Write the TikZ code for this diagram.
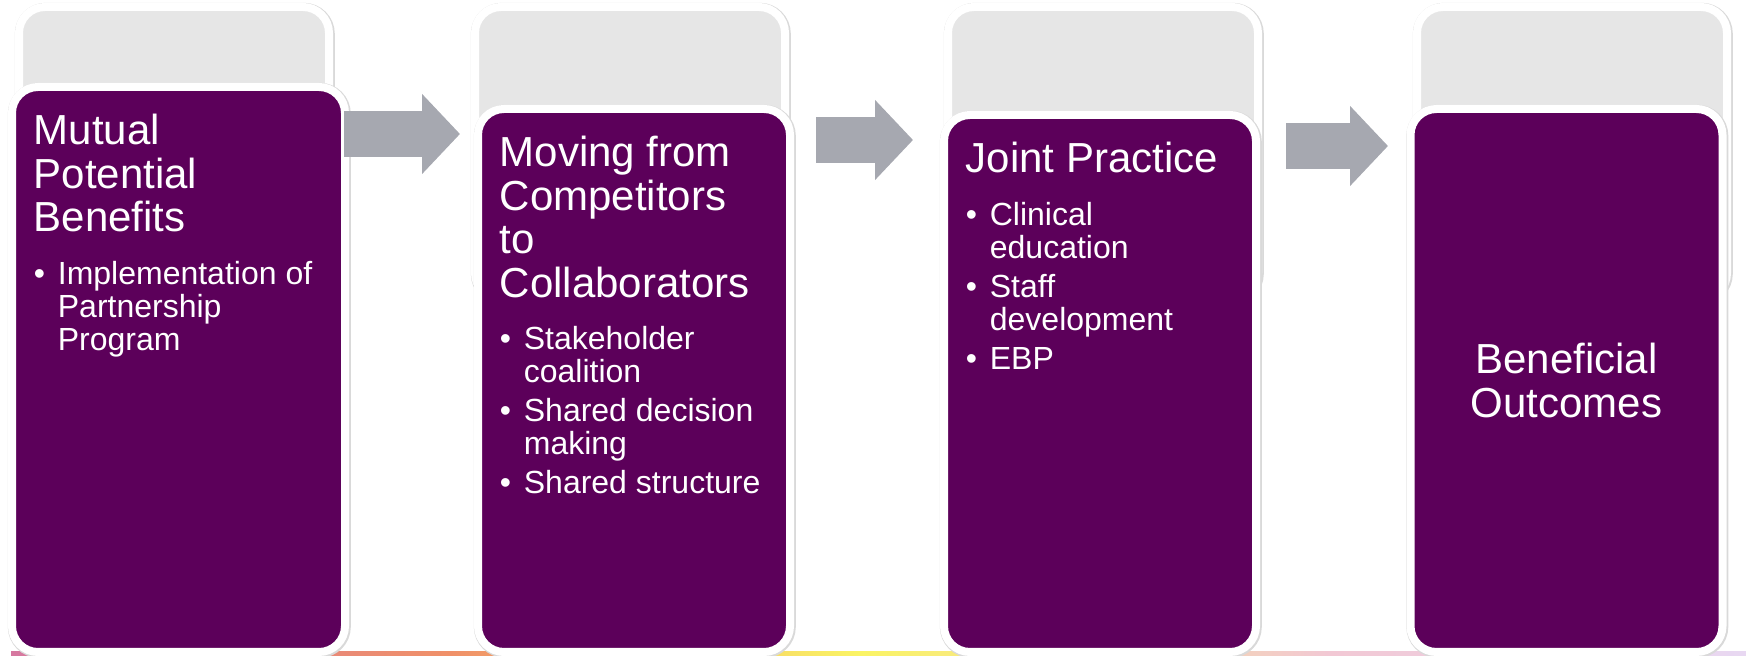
\documentclass[tikz,border=0pt]{standalone}
\usepackage{fontspec}
\setmainfont{Liberation Sans}
\usetikzlibrary{arrows.meta,calc}
\definecolor{cardpurple}{RGB}{92,0,90}
\definecolor{cardgray}{RGB}{230,230,230}
\definecolor{arrowgray}{RGB}{166,168,176}
\definecolor{stripA}{RGB}{214,120,160}
\definecolor{stripB}{RGB}{240,144,104}
\definecolor{stripC}{RGB}{250,244,100}
\definecolor{stripD}{RGB}{242,200,212}
\definecolor{stripE}{RGB}{232,216,242}
\pgfdeclarelayer{back}
\pgfsetlayers{back,main}
\newcommand\cardtitle{\fontsize{21}{21.75}\selectfont}
\newcommand\cardbox[2]{\parbox[t]{160pt}{\setlength\parskip{3pt}\cardtitle #1\par
  \vspace{6.75pt}\fontsize{16}{16.5}\selectfont #2}}
\newcommand\cardpoint[1]{\par\noindent\hangindent=12pt\hangafter=1%
  \makebox[12pt][l]{\textbullet}#1}
\tikzset{
  card/.style = {rectangle, rounded corners=13pt, draw=white, line width=4pt, inner sep=0pt,
    preaction={draw=black!15, line width=5pt, transform canvas={shift={(0.4pt,-0.4pt)}}}},
  backcard/.style = {card, fill=cardgray, minimum width=155pt, minimum height=146pt},
  frontcard/.style = {card, fill=cardpurple, minimum width=156pt},
  cardtext/.style = {anchor=base west, inner sep=0pt, text=white},
  flowarrow/.style = {draw=arrowgray, line width=23pt,
    -{Triangle[length=19pt, width=39pt, fill=arrowgray]}},
}
\begin{document}
\begin{tikzpicture}[x=0.5pt, y=-0.5pt]
\useasboundingbox (0,0) rectangle (1746,656);
\begin{pgfonlayer}{back}
  % coloured strip along the bottom
  \shade[left color=stripA, right color=stripB] (11,652) rectangle (450,656);
  \shade[left color=stripB, right color=stripC] (450,652) rectangle (860,656);
  \shade[left color=stripC, right color=stripD] (860,652) rectangle (1330,656);
  \shade[left color=stripD, right color=stripE] (1330,652) rectangle (1746,656);
  \node[backcard] (g1) at (174,153) {};
  \node[backcard] (g2) at (630,153) {};
  \node[backcard] (g3) at (1103,153) {};
  \node[backcard] (g4) at (1572,153) {};
\end{pgfonlayer}
\node[frontcard, minimum width=166.5pt, minimum height=282.5pt] (p1) at (178.5,369.5) {};
\node[frontcard, minimum height=271.5pt] (p2) at (634,380.5) {};
\node[frontcard, minimum height=268.5pt] (p3) at (1100,383.5) {};
\node[frontcard, minimum height=271.5pt] (p4) at (1566.5,380.5) {};

\node[cardtext] (t1) at ([shift={(12.75pt,-31pt)}]p1.north west)
  {\cardbox{Mutual\\Potential\\Benefits}
    {\cardpoint{Implementation of\\Partnership\\Program}}};
\node[cardtext] (t2) at ([shift={(12.75pt,-31pt)}]p2.north west)
  {\cardbox{Moving from\\Competitors\\to\\Collaborators}
    {\cardpoint{Stakeholder\\coalition}
     \cardpoint{Shared decision\\making}
     \cardpoint{Shared structure}}};
\node[cardtext] (t3) at ([shift={(12.75pt,-31pt)}]p3.north west)
  {\cardbox{Joint Practice}
    {\cardpoint{Clinical\\education}
     \cardpoint{Staff\\development}
     \cardpoint{EBP}}};
\node[text=white, align=center, font=\cardtitle] (t4) at (p4.center) {Beneficial\\Outcomes};

\coordinate (r1) at (0,134);
\coordinate (r2) at (0,140);
\coordinate (r3) at (0,146);
\draw[flowarrow, shorten <=-2.5pt, shorten >=5.5pt] (p1.east |- r1) -- (g2.west |- r1);
\draw[flowarrow, shorten <=11pt, shorten >=15.5pt] (p2.east |- r2) -- (g3.west |- r2);
\draw[flowarrow, shorten <=13pt, shorten >=12.5pt] (p3.east |- r3) -- (g4.west |- r3);
\end{tikzpicture}
\end{document}
